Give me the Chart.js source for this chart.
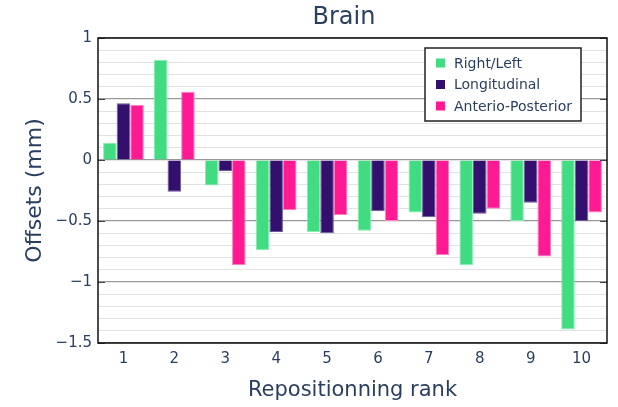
<!DOCTYPE html>
<html>
<head>
    <title>Brain offsets</title>
    <style>
        body { margin: 0; padding: 0; background: #fff; }
        #chart { display: block; }
    </style>
</head>
<body>
    <canvas id="chart" width="618" height="407"></canvas>

    <script src="https://cdn.jsdelivr.net/npm/chart.js"></script>
    <script>
        // Data
        var ranks = ['1', '2', '3', '4', '5', '6', '7', '8', '9', '10'];
        var rightLeft = [0.14, 0.82, -0.21, -0.74, -0.59, -0.58, -0.43, -0.86, -0.50, -1.39];
        var longitudinal = [0.465, -0.26, -0.09, -0.59, -0.60, -0.42, -0.47, -0.44, -0.35, -0.50];
        var anteroPosterior = [0.45, 0.56, -0.86, -0.41, -0.45, -0.50, -0.78, -0.40, -0.79, -0.43];
        var seriesNames = ['Right/Left', 'Longitudinal', 'Anterio-Posterior'];

        var textColor = '#2a3f5f';
        var fontFamily = '"DejaVu Sans", Verdana, sans-serif';

        function isMajor(v) {
            return Math.abs(v * 2 - Math.round(v * 2)) < 1e-6;
        }

        function fmt(v) {
            var r = Math.round(v * 10) / 10;
            if (r === 0) return '0';
            return (r < 0 ? '\u2212' : '') + Math.abs(r);
        }

        // title, frame, inside ticks and legend box
        var decor = {
            id: 'decor',
            afterDatasetsDraw: function(chart) {
                var ctx = chart.ctx;
                var a = chart.chartArea;
                var y = chart.scales.y;
                ctx.save();

                // inside tick marks on both sides
                ctx.strokeStyle = '#444';
                ctx.lineWidth = 1;
                y.ticks.forEach(function(t) {
                    if (!isMajor(t.value)) return;
                    var py = Math.round(y.getPixelForValue(t.value)) + 0.5;
                    ctx.beginPath();
                    ctx.moveTo(a.left, py); ctx.lineTo(a.left + 7, py);
                    ctx.moveTo(a.right - 7, py); ctx.lineTo(a.right, py);
                    ctx.stroke();
                });

                // frame
                ctx.strokeStyle = '#111';
                ctx.lineWidth = 1.5;
                ctx.strokeRect(a.left, a.top, a.right - a.left, a.bottom - a.top);

                // title
                ctx.fillStyle = textColor;
                ctx.font = '24px ' + fontFamily;
                ctx.textAlign = 'center';
                ctx.textBaseline = 'middle';
                ctx.fillText('Brain', 344, 18);

                // legend
                var lx = 425, ly = 48, lw = 156, lh = 73;
                ctx.fillStyle = '#fff';
                ctx.fillRect(lx, ly, lw, lh);
                ctx.strokeStyle = '#222';
                ctx.lineWidth = 1.5;
                ctx.strokeRect(lx, ly, lw, lh);
                ctx.font = '14px ' + fontFamily;
                ctx.textAlign = 'left';
                chart.data.datasets.forEach(function(ds, i) {
                    var cy = ly + 15 + i * 21.5;
                    ctx.fillStyle = ds.backgroundColor;
                    ctx.fillRect(lx + 11, cy - 4.5, 9, 9);
                    ctx.fillStyle = textColor;
                    ctx.fillText(ds.label, lx + 29, cy + 1);
                });
                ctx.restore();
            }
        };

        var ctx = document.getElementById('chart').getContext('2d');
        new Chart(ctx, {
            type: 'bar',
            data: {
                labels: ranks,
                datasets: [{
                    label: seriesNames[0],
                    data: rightLeft,
                    backgroundColor: '#41dc82',
                    borderColor: '#86eeb0',
                    borderWidth: 1
                }, {
                    label: seriesNames[1],
                    data: longitudinal,
                    backgroundColor: '#330f6e',
                    borderColor: '#6a5a9a',
                    borderWidth: 1
                }, {
                    label: seriesNames[2],
                    data: anteroPosterior,
                    backgroundColor: '#ff1a93',
                    borderColor: '#ff7fc0',
                    borderWidth: 1
                }]
            },
            options: {
                responsive: false,
                animation: false,
                layout: { padding: { left: 0, right: 11, top: 38, bottom: 0 } },
                plugins: {
                    legend: { display: false },
                    tooltip: { enabled: false }
                },
                datasets: {
                    bar: { categoryPercentage: 0.8, barPercentage: 1.0 }
                },
                scales: {
                    x: {
                        grid: { display: false, drawTicks: false },
                        border: { display: false },
                        ticks: { color: textColor, font: { family: fontFamily, size: 15 }, padding: 7 },
                        title: {
                            display: true,
                            text: 'Repositionning rank',
                            color: textColor,
                            font: { family: fontFamily, size: 21 },
                            padding: { top: 6 }
                        },
                        afterFit: function(s) { s.height = 64; }
                    },
                    y: {
                        min: -1.5,
                        max: 1,
                        grid: {
                            drawTicks: false,
                            color: function(c) { return isMajor(c.tick.value) ? '#999' : '#e2e2e2'; },
                            lineWidth: function(c) { return isMajor(c.tick.value) ? 1.2 : 1; }
                        },
                        border: { display: false },
                        ticks: {
                            stepSize: 0.1,
                            autoSkip: false,
                            color: textColor,
                            font: { family: fontFamily, size: 15 },
                            padding: 6,
                            callback: function(v) { return isMajor(v) ? fmt(v) : ''; }
                        },
                        title: {
                            display: true,
                            text: 'Offsets (mm)',
                            color: textColor,
                            font: { family: fontFamily, size: 22 },
                            padding: { top: 22, bottom: 0 }
                        },
                        afterFit: function(s) { s.width = 98; }
                    }
                }
            },
            plugins: [decor]
        });
    </script>
</body>
</html>
